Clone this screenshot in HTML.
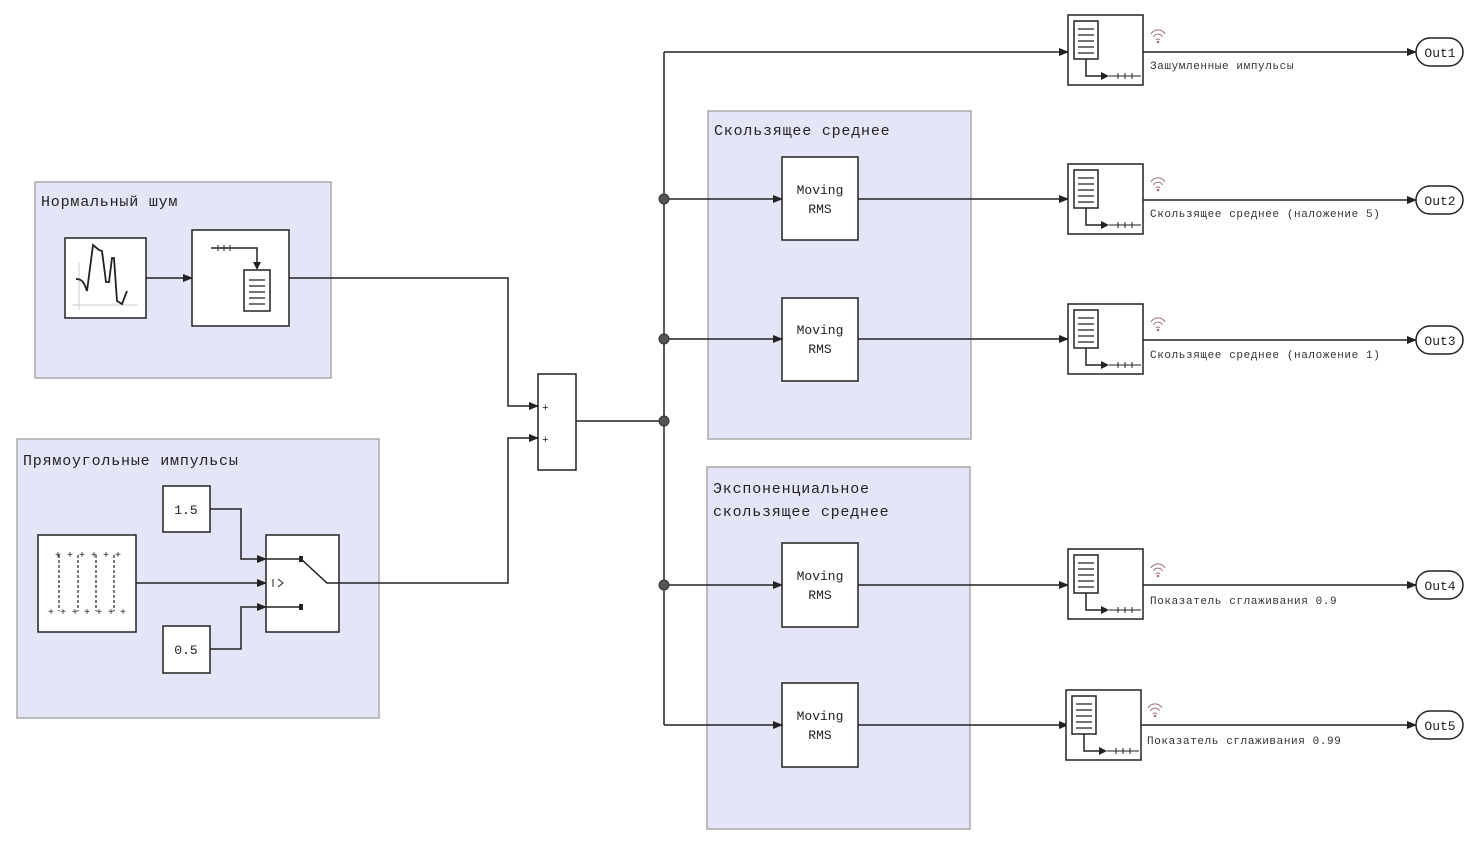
<!DOCTYPE html>
<html><head><meta charset="utf-8"><style>
body{margin:0;background:#fff}
svg{display:block}
text{font-family:"Liberation Mono","DejaVu Sans Mono",monospace;fill:#222}
.g{fill:#e5e5f8;stroke:#aaa;stroke-width:1.5}
.b{fill:#fff;stroke:#222;stroke-width:1.5}
.w{fill:none;stroke:#222;stroke-width:1.5}
.t{font-size:15px;letter-spacing:0.8px}
.s{font-size:11px;fill:#333;letter-spacing:0.6px}
</style></head><body>
<svg width="1483" height="850" viewBox="0 0 1483 850">
<defs>
<marker id="a" markerWidth="10" markerHeight="8" refX="9" refY="4" orient="auto" markerUnits="userSpaceOnUse"><path d="M0,0L10,4L0,8z" fill="#222"/></marker>
<g id="ub">
<rect x="0" y="0" width="75" height="70" class="b"/>
<rect x="6" y="6" width="24" height="38" fill="#fff" stroke="#222" stroke-width="1.5"/>
<path d="M10,14h16M10,20h16M10,26h16M10,32h16M10,38h16" stroke="#222" stroke-width="1.2"/>
<path d="M18,44v17h16" class="w"/><path d="M33,57l8,4l-8,4z" fill="#222"/>
<path d="M41,61h32M50,58v6M57,58v6M64,58v6" stroke="#222" stroke-width="1"/>
</g>
<g id="wifi" fill="none" stroke="#a07080" stroke-width="1"><path d="M0,4a8,8 0 0 1 14,0M2.5,7a5,5 0 0 1 9,0M5,10a2.5,2.5 0 0 1 4,0"/><circle cx="7" cy="12" r="0.8" fill="#a07080"/></g>
</defs>

<rect x="35" y="182" width="296" height="196" class="g"/>
<text x="41" y="206" class="t">Нормальный шум</text>
<rect x="17" y="439" width="362" height="279" class="g"/>
<text x="23" y="465" class="t">Прямоугольные импульсы</text>
<rect x="708" y="111" width="263" height="328" class="g"/>
<text x="714" y="135" class="t">Скользящее среднее</text>
<rect x="707" y="467" width="263" height="362" class="g"/>
<text x="713" y="493" class="t">Экспоненциальное</text>
<text x="713" y="516" class="t">скользящее среднее</text>

<path d="M146,278H192" class="w" marker-end="url(#a)"/>
<path d="M289,278H508V406H538" class="w" marker-end="url(#a)"/>
<path d="M339,583H508V438H538" class="w" marker-end="url(#a)"/>
<path d="M576,421H664" class="w"/>
<path d="M664,725V52" class="w"/>
<path d="M664,52H1068" class="w" marker-end="url(#a)"/>
<path d="M664,199H782" class="w" marker-end="url(#a)"/>
<path d="M664,339H782" class="w" marker-end="url(#a)"/>
<path d="M664,585H782" class="w" marker-end="url(#a)"/>
<path d="M664,725H782" class="w" marker-end="url(#a)"/>
<path d="M858,199H1068" class="w" marker-end="url(#a)"/>
<path d="M858,339H1068" class="w" marker-end="url(#a)"/>
<path d="M858,585H1068" class="w" marker-end="url(#a)"/>
<path d="M858,725H1068" class="w" marker-end="url(#a)"/>
<path d="M1143,52H1416" class="w" marker-end="url(#a)"/>
<path d="M1143,200H1416" class="w" marker-end="url(#a)"/>
<path d="M1143,340H1416" class="w" marker-end="url(#a)"/>
<path d="M1143,585H1416" class="w" marker-end="url(#a)"/>
<path d="M1140,725H1416" class="w" marker-end="url(#a)"/>
<path d="M210,509H241V559H266" class="w" marker-end="url(#a)"/>
<path d="M210,649H241V607H266" class="w" marker-end="url(#a)"/>
<path d="M136,583H266" class="w" marker-end="url(#a)"/>
<g fill="#555" stroke="#333"><circle cx="664" cy="199" r="5"/><circle cx="664" cy="339" r="5"/><circle cx="664" cy="421" r="5"/><circle cx="664" cy="585" r="5"/></g>

<rect x="65" y="238" width="81" height="80" class="b"/>
<path d="M79,262V310M72,305H138" stroke="#ccc" stroke-width="1"/>
<path d="M76,279C82,279 84,282 87,291L93,245L99,250L102,251L106,282L109,282L112,258L114,258L117,301L122,304L127,291" fill="none" stroke="#222" stroke-width="1.8"/>
<rect x="192" y="230" width="97" height="96" class="b"/>
<path d="M211,248H257V262" class="w"/><path d="M253,262l4,8l4,-8z" fill="#222"/>
<path d="M218,245v6M224,245v6M230,245v6" stroke="#222"/>
<rect x="244" y="270" width="26" height="41" fill="#fff" stroke="#222" stroke-width="1.5"/>
<path d="M249,280h16M249,286h16M249,292h16M249,298h16M249,304h16" stroke="#222" stroke-width="1.2"/>
<rect x="538" y="374" width="38" height="96" class="b"/>
<text x="542" y="411" font-size="11">+</text><text x="542" y="443" font-size="11">+</text>
<rect x="163" y="486" width="47" height="46" class="b"/><text x="186" y="514" font-size="13" text-anchor="middle">1.5</text>
<rect x="163" y="626" width="47" height="47" class="b"/><text x="186" y="654" font-size="13" text-anchor="middle">0.5</text>
<rect x="38" y="535" width="98" height="97" class="b"/>
<path d="M59,555V611M78,555V611M96,555V611M114,555V611" stroke="#222" stroke-width="1.2" stroke-dasharray="3,2"/>
<text x="48" y="615" font-size="10">+ +   + + +   + +</text>
<text x="55" y="558" font-size="10">+ + +   + + +</text>
<rect x="266" y="535" width="73" height="97" class="b"/>
<path d="M266,559H301L327,583H339M266,607H301" class="w"/>
<rect x="299" y="556" width="4" height="6" fill="#222"/><rect x="299" y="604" width="4" height="6" fill="#222"/>
<path d="M273,579v8M278,579l5,4l-5,4" fill="none" stroke="#222" stroke-width="1"/>
<g font-size="13" text-anchor="middle">
<rect x="782" y="157" width="76" height="83" class="b"/><text x="820" y="194">Moving</text><text x="820" y="213">RMS</text>
<rect x="782" y="298" width="76" height="83" class="b"/><text x="820" y="334">Moving</text><text x="820" y="353">RMS</text>
<rect x="782" y="543" width="76" height="84" class="b"/><text x="820" y="580">Moving</text><text x="820" y="599">RMS</text>
<rect x="782" y="683" width="76" height="84" class="b"/><text x="820" y="720">Moving</text><text x="820" y="739">RMS</text>
</g>
<use href="#ub" x="1068" y="15"/><use href="#ub" x="1068" y="164"/><use href="#ub" x="1068" y="304"/><use href="#ub" x="1068" y="549"/><use href="#ub" x="1066" y="690"/>
<use href="#wifi" x="1151" y="30"/><use href="#wifi" x="1151" y="178"/><use href="#wifi" x="1151" y="318"/><use href="#wifi" x="1151" y="564"/><use href="#wifi" x="1148" y="704"/>
<text x="1150" y="69" class="s">Зашумленные импульсы</text>
<text x="1150" y="217" class="s">Скользящее среднее (наложение 5)</text>
<text x="1150" y="358" class="s">Скользящее среднее (наложение 1)</text>
<text x="1150" y="604" class="s">Показатель сглаживания 0.9</text>
<text x="1147" y="744" class="s">Показатель сглаживания 0.99</text>
<g font-size="13" text-anchor="middle">
<rect x="1416" y="38" width="47" height="28" rx="14" class="b"/><text x="1440" y="57">Out1</text>
<rect x="1416" y="186" width="47" height="28" rx="14" class="b"/><text x="1440" y="205">Out2</text>
<rect x="1416" y="326" width="47" height="28" rx="14" class="b"/><text x="1440" y="345">Out3</text>
<rect x="1416" y="571" width="47" height="28" rx="14" class="b"/><text x="1440" y="590">Out4</text>
<rect x="1416" y="711" width="47" height="28" rx="14" class="b"/><text x="1440" y="730">Out5</text>
</g>
</svg>
</body></html>
